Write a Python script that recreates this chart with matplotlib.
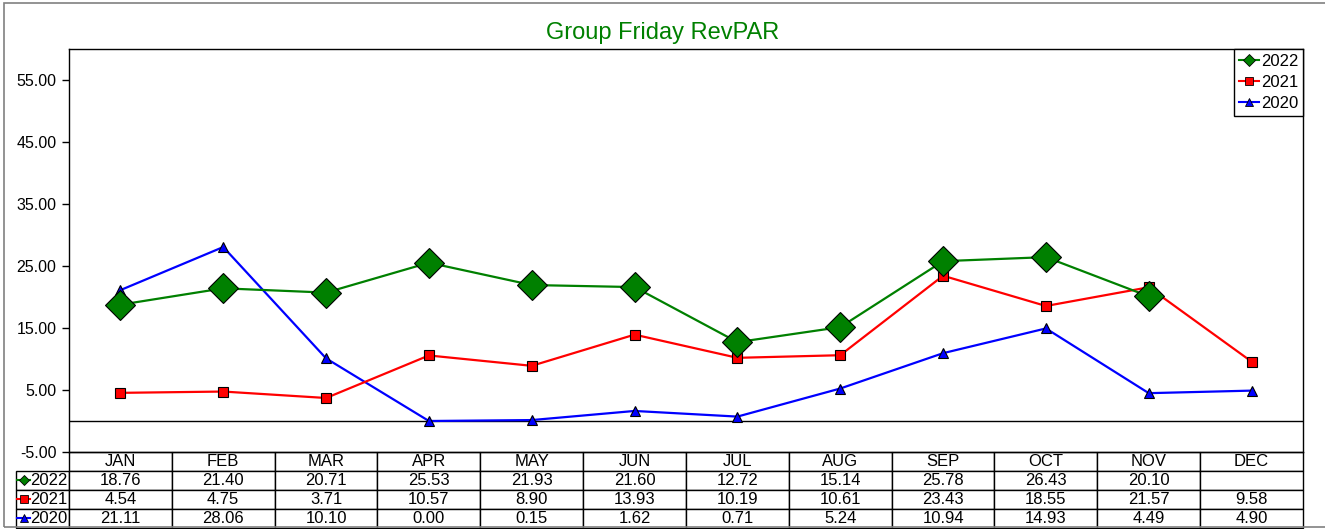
import numpy as np
import matplotlib.pyplot as plt
from matplotlib.lines import Line2D
from matplotlib.patches import Rectangle
from matplotlib.table import Table

plt.rcParams['font.family'] = ['Liberation Sans', 'DejaVu Sans']

months = ['JAN', 'FEB', 'MAR', 'APR', 'MAY', 'JUN', 'JUL', 'AUG', 'SEP', 'OCT', 'NOV', 'DEC']
years = ['2022', '2021', '2020']
rev_2022 = [18.76, 21.40, 20.71, 25.53, 21.93, 21.60, 12.72, 15.14, 25.78, 26.43, 20.10, None]
rev_2021 = [4.54, 4.75, 3.71, 10.57, 8.90, 13.93, 10.19, 10.61, 23.43, 18.55, 21.57, 9.58]
rev_2020 = [21.11, 28.06, 10.10, 0.00, 0.15, 1.62, 0.71, 5.24, 10.94, 14.93, 4.49, 4.90]
y_ticks = [-5, 5, 15, 25, 35, 45, 55]

styles = {
    '2022': dict(color='#008000', marker='D', ms=15),
    '2021': dict(color='#FF0000', marker='s', ms=6.5),
    '2020': dict(color='#0000FF', marker='^', ms=6.5),
}
series = {'2022': rev_2022, '2021': rev_2021, '2020': rev_2020}

W, H = 1325, 529
fig = plt.figure(figsize=(W / 100, H / 100), dpi=100)
fig.patch.set_facecolor('white')

# outer frame
fig.add_artist(Rectangle((4 / W, 2 / H), 1.2, 1 - 5 / H, transform=fig.transFigure,
                         fill=False, edgecolor='#808080', lw=1.2))

L, R, T, B = 69, 1303, 49, 452
ax = fig.add_axes([L / W, 1 - B / H, (R - L) / W, (B - T) / H])

x = np.arange(len(months))
# draw in reverse so 2022 sits on top
for yr in ['2020', '2021', '2022']:
    vals = np.array([np.nan if v is None else v for v in series[yr]], dtype=float)
    st = styles[yr]
    ax.plot(x, vals, color=st['color'], lw=1.6, marker=st['marker'], ms=st['ms'],
            markerfacecolor=st['color'], markeredgecolor='black', markeredgewidth=0.8,
            zorder=3)

ax.axhline(0, color='black', lw=1)
ax.set_xlim(-0.5, len(months) - 0.5)
ax.set_ylim(-5, 60)
ax.set_yticks(y_ticks)
ax.set_yticklabels([f'{t:.2f}' for t in y_ticks])
ax.set_xticks([])
ax.tick_params(axis='y', direction='out', length=5, width=1, labelsize=11.5, pad=4)
for sp in ax.spines.values():
    sp.set_color('black')
    sp.set_linewidth(1)

fig.text(0.5, 1 - 33 / H, 'Group Friday RevPAR', color='#008000', fontsize=17,
         ha='center', va='center')

# legend with small markers
handles = [Line2D([0], [0], color=styles[y]['color'], marker=styles[y]['marker'],
                  ms=6, markerfacecolor=styles[y]['color'], markeredgecolor='black',
                  markeredgewidth=0.6, lw=1.5) for y in years]
leg = ax.legend(handles, years, loc='upper right', borderaxespad=0, fontsize=12,
                fancybox=False, edgecolor='black', framealpha=1, handlelength=1.2,
                handletextpad=0.1, labelspacing=0.35, borderpad=0.3)
leg.get_frame().set_linewidth(1)

# data table under the plot
lab_w = (L - 16) / (R - L)
col_w = 1 / len(months)
tb_h = (528 - B) / (B - T)
row_h = tb_h / 4
tbl = Table(ax, bbox=[-lab_w, -tb_h, 1 + lab_w, tb_h])
tbl.auto_set_font_size(False)
hdr = tbl.add_cell(0, 0, lab_w, row_h, text='')
hdr.visible_edges = ''
for c, m in enumerate(months, start=1):
    tbl.add_cell(0, c, col_w, row_h, text=m, loc='center')
for r, yr in enumerate(years, start=1):
    lab = tbl.add_cell(r, 0, lab_w, row_h, text=yr, loc='right')
    lab.PAD = 0.03
    for c, v in enumerate(series[yr], start=1):
        tbl.add_cell(r, c, col_w, row_h, text='' if v is None else f'{v:.2f}', loc='center')
tbl.set_fontsize(12)
for cell in tbl.get_celld().values():
    cell.set_edgecolor('black')
    cell.set_linewidth(1)
ax.add_table(tbl)

# row label line markers
row_y = [480, 499, 518]
for yr, yy in zip(years, row_y):
    st = styles[yr]
    fig.add_artist(Line2D([17 / W, 30 / W], [1 - yy / H, 1 - yy / H], color=st['color'],
                          lw=1.5, transform=fig.transFigure))
    fig.add_artist(Line2D([23.5 / W], [1 - yy / H], color=st['color'], marker=st['marker'],
                          ms=5.5, markerfacecolor=st['color'], markeredgecolor='black',
                          markeredgewidth=0.6, transform=fig.transFigure))

fig.savefig('out.png', dpi=100)
